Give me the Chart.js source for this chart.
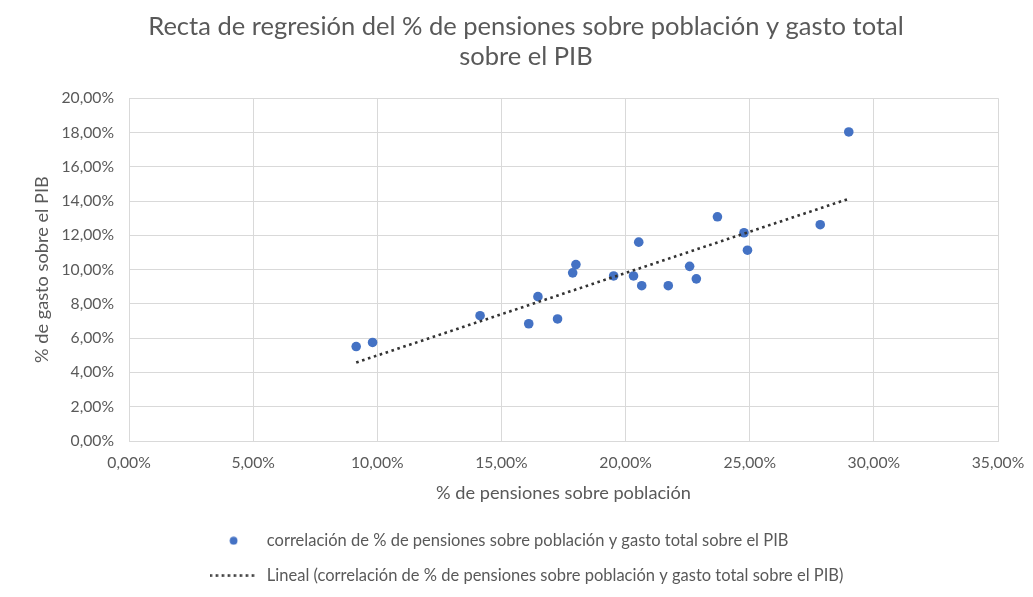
<!DOCTYPE html>
<html>
<head>
<meta charset="utf-8">
<script src="https://cdn.jsdelivr.net/npm/chart.js@4.4.1/dist/chart.umd.min.js"></script>
<style>
html,body{margin:0;padding:0;background:#fff;overflow:hidden}
#wrap{position:relative;width:1033px;height:597px}
</style>
</head>
<body>
<div id="wrap"><canvas id="c" width="1033" height="597"></canvas></div>
<script>
// ---- data ----
const pensionesX = [9.15, 9.81, 14.14, 16.10, 16.47, 17.26, 17.87, 18.00, 19.52, 20.32, 20.53, 20.65, 21.72, 22.58, 22.85, 23.70, 24.77, 24.91, 27.84, 28.99];
const gastoY     = [5.51, 5.75, 7.31, 6.84, 8.42, 7.12, 9.81, 10.29, 9.63, 9.63, 11.60, 9.06, 9.06, 10.19, 9.46, 13.08, 12.15, 11.13, 12.62, 18.03];
const trendX = [9.15, 28.99];
const trendY = [4.58, 14.13];
const xTickLabels = ['0,00%', '5,00%', '10,00%', '15,00%', '20,00%', '25,00%', '30,00%', '35,00%'];
const yTickLabels = ['0,00%', '2,00%', '4,00%', '6,00%', '8,00%', '10,00%', '12,00%', '14,00%', '16,00%', '18,00%', '20,00%'];
const chartTitle = ['Recta de regresión del % de pensiones sobre población y gasto total', 'sobre el PIB'];
const seriesLabel = 'correlación de % de pensiones sobre población y gasto total sobre el PIB';
const trendLabel = 'Lineal (correlación de % de pensiones sobre población y gasto total sobre el PIB)';
const xTitle = '% de pensiones sobre población';
const yTitle = '% de gasto sobre el PIB';

const FONT = "Lato, 'Liberation Sans', Arial, sans-serif";
const GREY = '#595959';

function makeDot() {
  const c = document.createElement('canvas'); c.width = 9; c.height = 9;
  const g = c.getContext('2d'); g.fillStyle = '#4472C4'; g.beginPath(); g.arc(4.5, 4.5, 3.9, 0, Math.PI * 2); g.fill();
  return c;
}
function makeDash() {
  const c = document.createElement('canvas'); c.width = 48; c.height = 3;
  const g = c.getContext('2d'); g.strokeStyle = '#333'; g.lineWidth = 2.6; g.setLineDash([2.6, 3.4]);
  g.beginPath(); g.moveTo(0, 1.5); g.lineTo(48, 1.5); g.stroke();
  return c;
}
const legendMarks = [makeDot(), makeDash()];

const LEGEND_H = 83;
const fixPlugin = {
  id: 'fixLegend',
  beforeLayout(chart) {
    const lg = chart.legend;
    if (lg && !lg._fixed) {
      const orig = lg.fit.bind(lg);
      lg.fit = function () {
        orig();
        this.height = LEGEND_H;
        if (this.lineWidths && this.lineWidths.length) {
          const m = Math.max.apply(null, this.lineWidths);
          this.lineWidths = this.lineWidths.map(() => m);
        }
      };
      lg._fixed = true;
    }
  }
};

new Chart(document.getElementById('c'), {
  type: 'scatter',
  data: {
    datasets: [
      {
        label: seriesLabel,
        data: pensionesX.map((x, i) => ({ x: x, y: gastoY[i] })),
        backgroundColor: '#4472C4',
        borderColor: '#4472C4',
        borderWidth: 0,
        pointRadius: 4.8,
        pointHoverRadius: 4.8,
        order: 1
      },
      {
        type: 'line',
        label: trendLabel,
        data: trendX.map((x, i) => ({ x: x, y: trendY[i] })),
        borderColor: '#333333',
        borderWidth: 2.6,
        borderDash: [2.6, 3.6],
        borderCapStyle: 'butt',
        pointRadius: 0,
        fill: false,
        showLine: true,
        order: 0
      }
    ]
  },
  options: {
    responsive: false,
    animation: false,
    events: [],
    layout: { padding: { left: 19, right: 0, top: 0, bottom: 0 } },
    plugins: {
      title: {
        display: true,
        text: chartTitle,
        color: GREY,
        font: { family: FONT, size: 25.5, weight: 'normal', lineHeight: 1.18 },
        padding: { top: 12, bottom: 26 }
      },
      legend: {
        display: true,
        position: 'bottom',
        align: 'center',
        labels: {
          font: { family: FONT, size: 16.5 },
          color: GREY,
          usePointStyle: true,
          pointStyleWidth: 50,
          boxHeight: 13,
          padding: 18.5,
          generateLabels(chart) {
            return chart.data.datasets.map((ds, i) => ({
              text: ds.label,
              fillStyle: 'transparent',
              strokeStyle: 'transparent',
              lineWidth: 0,
              pointStyle: legendMarks[i],
              hidden: false,
              datasetIndex: i,
              fontColor: GREY
            }));
          }
        }
      },
      tooltip: { enabled: false }
    },
    scales: {
      x: {
        type: 'linear',
        min: 0, max: 35,
        ticks: {
          stepSize: 5,
          color: GREY,
          font: { family: FONT, size: 15.7 },
          padding: 13,
          maxRotation: 0,
          callback: (v) => xTickLabels[Math.round(v / 5)]
        },
        grid: { color: '#d9d9d9', drawTicks: false },
        border: { color: '#d9d9d9' },
        title: {
          display: true, text: xTitle, color: GREY,
          font: { family: FONT, size: 18.2 },
          padding: { top: 0, bottom: 10 }
        },
        afterFit(scale) { scale.height = 73; scale.paddingRight = 35; }
      },
      y: {
        type: 'linear',
        min: 0, max: 20,
        ticks: {
          stepSize: 2,
          color: GREY,
          font: { family: FONT, size: 15.7 },
          padding: 15,
          callback: (v) => yTickLabels[Math.round(v / 2)]
        },
        grid: { color: '#d9d9d9', drawTicks: false },
        border: { color: '#d9d9d9' },
        title: {
          display: true, text: yTitle, color: GREY,
          font: { family: FONT, size: 18.2 },
          padding: { top: 12, bottom: 0 }
        },
        afterFit(scale) { scale.width = 110; }
      }
    }
  },
  plugins: [fixPlugin]
});
</script>
</body>
</html>
